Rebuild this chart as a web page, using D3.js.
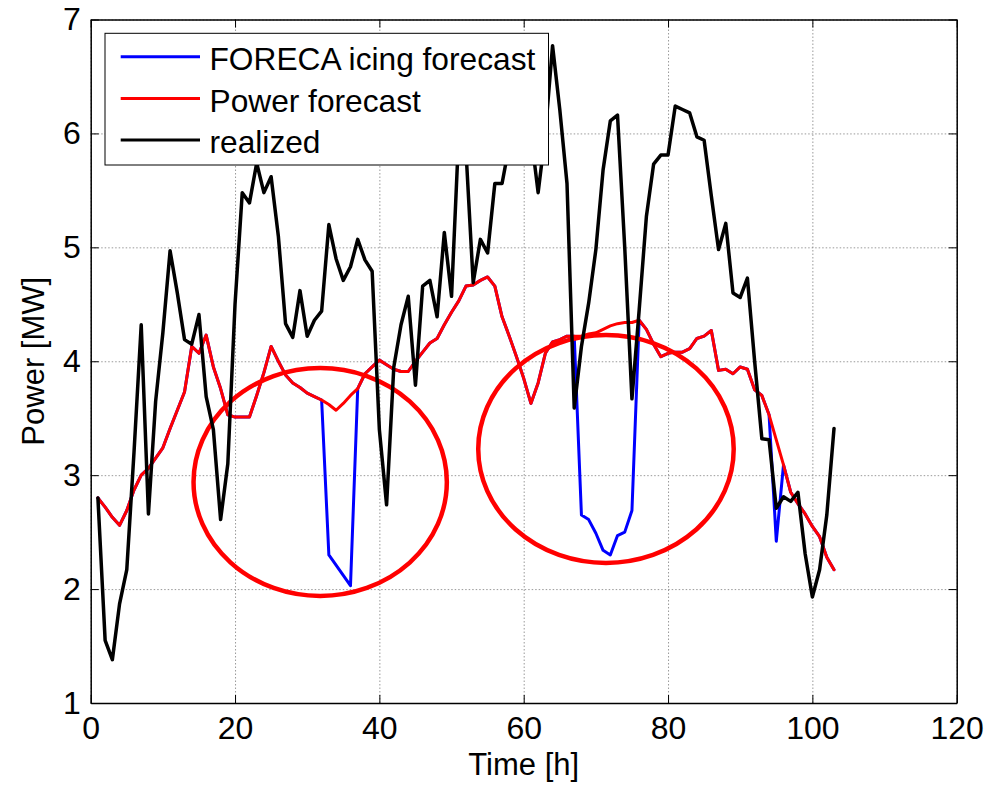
<!DOCTYPE html>
<html>
<head>
<meta charset="utf-8">
<script src="https://cdn.jsdelivr.net/npm/d3@7"></script>
<style>
  html, body { margin: 0; padding: 0; background: #fff; }
  #chart { width: 992px; height: 786px; }
</style>
</head>
<body>
<div id="chart"></div>
<script>
// hourly values, hour = index + 1
const realized = [
    2.80, 1.55, 1.38, 1.87, 2.17, 3.20, 4.32, 2.66, 3.65, 4.25,
    4.97, 4.60, 4.19, 4.15, 4.41, 3.69, 3.40, 2.61, 3.10, 4.50,
    5.48, 5.39, 5.74, 5.48, 5.62, 5.10, 4.33, 4.21, 4.62, 4.22,
    4.36, 4.44, 5.20, 4.90, 4.71, 4.83, 5.07, 4.89, 4.79, 3.40,
    2.74, 3.95, 4.32, 4.57, 3.79, 4.66, 4.71, 4.39, 5.13, 4.57,
    6.00, 5.85, 4.69, 5.07, 4.95, 5.56, 5.56, 5.90, 6.20, 6.40,
    6.00, 5.48, 6.00, 6.77, 6.21, 5.56, 3.59, 4.13, 4.51, 4.98,
    5.68, 6.11, 6.16, 5.00, 3.67, 4.45, 5.27, 5.73, 5.81, 5.81,
    6.24, 6.21, 6.18, 5.97, 5.94, 5.45, 4.98, 5.21, 4.60, 4.56,
    4.73, 4.00, 3.32, 3.31, 2.71, 2.81, 2.77, 2.85, 2.31, 1.93,
    2.17, 2.65, 3.41
];

const powerForecast = [
    2.80, 2.72, 2.63, 2.56, 2.69, 2.87, 3.00, 3.06, 3.15, 3.24,
    3.41, 3.57, 3.73, 4.13, 4.07, 4.23, 3.95, 3.76, 3.53, 3.51,
    3.51, 3.51, 3.70, 3.90, 4.13, 4.00, 3.88, 3.81, 3.77, 3.72,
    3.69, 3.66, 3.62, 3.57, 3.63, 3.70, 3.76, 3.89, 3.95, 4.01,
    3.97, 3.93, 3.91, 3.91, 4.00, 4.08, 4.16, 4.20, 4.32, 4.43,
    4.53, 4.66, 4.67, 4.71, 4.74, 4.66, 4.39, 4.22, 4.04, 3.85,
    3.63, 3.81, 4.07, 4.17, 4.19, 4.22, 4.22, 4.22, 4.24, 4.25,
    4.28, 4.31, 4.33, 4.34, 4.34, 4.36, 4.28, 4.15, 4.04, 4.07,
    4.08, 4.08, 4.11, 4.20, 4.22, 4.27, 3.92, 3.93, 3.89, 3.95,
    3.93, 3.75, 3.70, 3.53, 3.31, 3.09, 2.85, 2.75, 2.66, 2.55,
    2.46, 2.28, 2.17
];

const icingForecast = [
    2.80, 2.72, 2.63, 2.56, 2.69, 2.87, 3.00, 3.06, 3.15, 3.24,
    3.41, 3.57, 3.73, 4.13, 4.07, 4.23, 3.95, 3.76, 3.53, 3.51,
    3.51, 3.51, 3.70, 3.90, 4.13, 4.00, 3.88, 3.81, 3.77, 3.72,
    3.69, 3.66, 2.30, 2.21, 2.12, 2.03, 3.76, 3.89, 3.95, 4.01,
    3.97, 3.93, 3.91, 3.91, 4.00, 4.08, 4.16, 4.20, 4.32, 4.43,
    4.53, 4.66, 4.67, 4.71, 4.74, 4.66, 4.39, 4.22, 4.04, 3.85,
    3.63, 3.81, 4.07, 4.17, 4.19, 4.22, 4.22, 2.65, 2.61, 2.49,
    2.34, 2.30, 2.47, 2.50, 2.69, 4.36, 4.28, 4.15, 4.04, 4.07,
    4.08, 4.08, 4.11, 4.20, 4.22, 4.27, 3.92, 3.93, 3.89, 3.95,
    3.93, 3.75, 3.70, 3.53, 2.42, 3.09, 2.85, 2.75, 2.66, 2.55,
    2.46, 2.28, 2.17
];

const xTicks = [0, 20, 40, 60, 80, 100, 120];
const yTicks = [1, 2, 3, 4, 5, 6, 7];

// icing circles drawn on the chart: centre hour, centre MW, radius hours, radius MW
const circleCx = [31.8, 71.4];
const circleCy = [2.94, 3.23];
const circleRx = [17.55, 17.7];
const circleRy = [1.0, 1.0];

const seriesNames = ["FORECA icing forecast", "Power forecast", "realized"];
const seriesColors = ["#0000ff", "#ff0000", "#000000"];

function renderIcingChart(selector = "#chart") {
    const width = 992;
    const height = 786;
    const margin = { top: 19.5, right: 35.3, bottom: 83, left: 90.7 };
    const font = "'Liberation Sans', Arial, Helvetica, sans-serif";

    const svg = d3.select(selector).append("svg")
        .attr("width", width)
        .attr("height", height)
        .style("display", "block")
        .style("font-family", font);

    const x = d3.scaleLinear().domain([0, 120]).range([margin.left, width - margin.right]);
    const y = d3.scaleLinear().domain([1, 7]).range([height - margin.bottom, margin.top]);
    const plotW = width - margin.left - margin.right;
    const plotH = height - margin.top - margin.bottom;

    // grid
    svg.append("g")
        .attr("transform", `translate(0,${height - margin.bottom})`)
        .call(d3.axisBottom(x).tickValues(xTicks).tickSize(-plotH).tickFormat(""))
        .call(g => g.select(".domain").remove())
        .selectAll("line")
        .attr("stroke", "#808080")
        .attr("stroke-width", 0.8)
        .attr("stroke-dasharray", "1.5,2");

    svg.append("g")
        .attr("transform", `translate(${margin.left},0)`)
        .call(d3.axisLeft(y).tickValues(yTicks).tickSize(-plotW).tickFormat(""))
        .call(g => g.select(".domain").remove())
        .selectAll("line")
        .attr("stroke", "#808080")
        .attr("stroke-width", 0.8)
        .attr("stroke-dasharray", "1.5,2");

    const line = d3.line()
        .x((d, i) => x(i + 1))
        .y(d => y(d));

    const lines = svg.append("g").attr("class", "lines")
        .attr("fill", "none")
        .attr("stroke-linejoin", "round")
        .attr("stroke-linecap", "round");

    lines.append("path")
        .datum(icingForecast)
        .attr("stroke", seriesColors[0])
        .attr("stroke-width", 3)
        .attr("d", line);

    lines.append("path")
        .datum(powerForecast)
        .attr("stroke", seriesColors[1])
        .attr("stroke-width", 3)
        .attr("d", line);

    // the red circles round the icing periods
    circleCx.forEach((cx, i) => {
        svg.append("ellipse")
            .attr("cx", x(cx))
            .attr("cy", y(circleCy[i]))
            .attr("rx", x(circleRx[i]) - x(0))
            .attr("ry", y(0) - y(circleRy[i]))
            .attr("fill", "none")
            .attr("stroke", "#ff0000")
            .attr("stroke-width", 4.5);
    });

    svg.append("path")
        .datum(realized)
        .attr("fill", "none")
        .attr("stroke", seriesColors[2])
        .attr("stroke-width", 3.5)
        .attr("stroke-linejoin", "round")
        .attr("stroke-linecap", "round")
        .attr("d", line);

    // axes, ticks inside like matlab
    const styleAxis = g => {
        g.select(".domain").attr("stroke", "#000").attr("stroke-width", 1.5);
        g.selectAll(".tick line").attr("stroke", "#000").attr("stroke-width", 1);
        g.selectAll("text").attr("fill", "#000").style("font-size", "32px").style("font-family", font);
    };

    svg.append("g")
        .attr("transform", `translate(0,${height - margin.bottom})`)
        .call(d3.axisBottom(x).tickValues(xTicks).tickFormat(d3.format("d"))
            .tickSizeInner(-8).tickSizeOuter(0).tickPadding(13))
        .call(styleAxis);

    svg.append("g")
        .attr("transform", `translate(0,${margin.top})`)
        .call(d3.axisTop(x).tickValues(xTicks).tickSizeInner(-8).tickSizeOuter(0).tickFormat(""))
        .call(styleAxis);

    svg.append("g")
        .attr("transform", `translate(${margin.left},0)`)
        .call(d3.axisLeft(y).tickValues(yTicks).tickFormat(d3.format("d"))
            .tickSizeInner(-8).tickSizeOuter(0).tickPadding(10))
        .call(styleAxis);

    svg.append("g")
        .attr("transform", `translate(${width - margin.right},0)`)
        .call(d3.axisRight(y).tickValues(yTicks).tickSizeInner(-8).tickSizeOuter(0).tickFormat(""))
        .call(styleAxis);

    svg.append("text")
        .attr("x", margin.left + plotW / 2)
        .attr("y", 775)
        .attr("text-anchor", "middle")
        .attr("fill", "#000")
        .style("font-size", "31px")
        .text("Time [h]");

    svg.append("text")
        .attr("transform", "rotate(-90)")
        .attr("x", -(margin.top + plotH / 2))
        .attr("y", 43.5)
        .attr("text-anchor", "middle")
        .attr("fill", "#000")
        .style("font-size", "31px")
        .text("Power [MW]");

    // legend
    const legend = svg.append("g").attr("class", "legend");
    legend.append("rect")
        .attr("x", 105).attr("y", 33.3)
        .attr("width", 443.5).attr("height", 131.7)
        .attr("fill", "#fff")
        .attr("stroke", "#000")
        .attr("stroke-width", 1);

    seriesNames.forEach((name, i) => {
        const ly = 56.7 + i * 41.7;
        legend.append("line")
            .attr("x1", 120.7).attr("x2", 200)
            .attr("y1", ly).attr("y2", ly)
            .attr("stroke", seriesColors[i])
            .attr("stroke-width", 3);
        legend.append("text")
            .attr("x", 209.5)
            .attr("y", ly + 13.3)
            .attr("fill", "#000")
            .style("font-size", "31.7px")
            .text(name);
    });
}

renderIcingChart();
</script>
</body>
</html>
